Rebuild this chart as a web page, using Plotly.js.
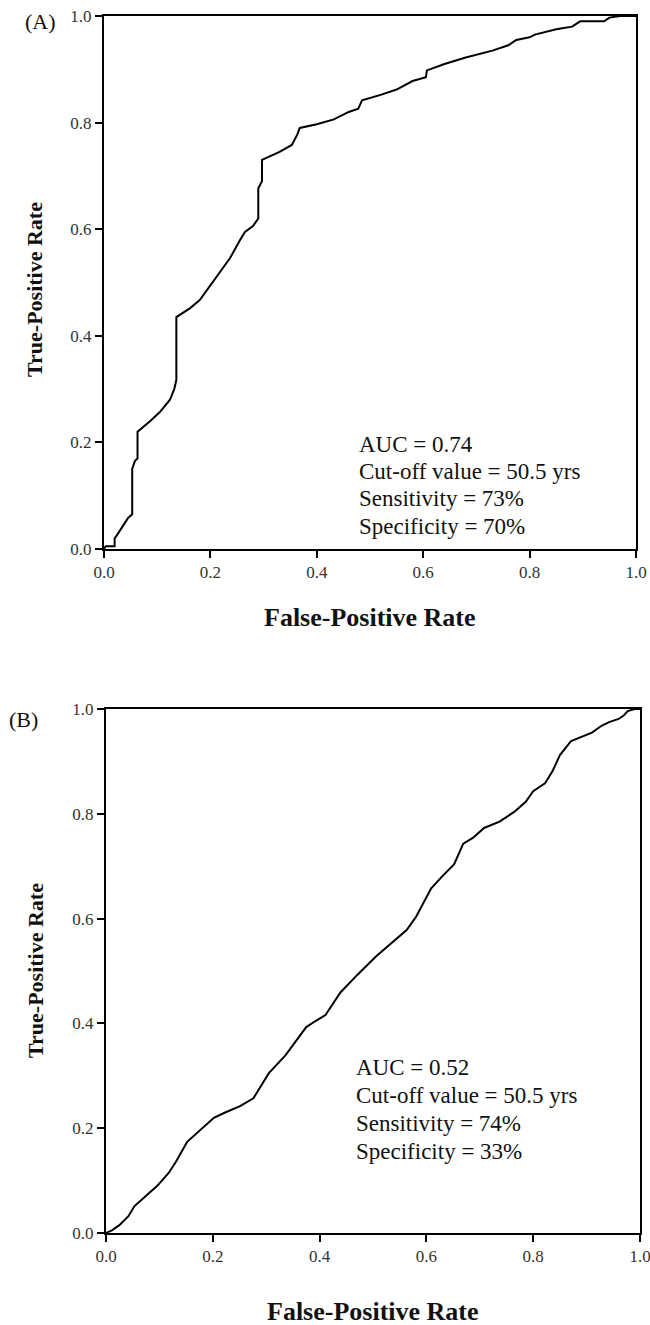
<!DOCTYPE html>
<html>
<head>
<meta charset="utf-8">
<script src="https://cdn.plot.ly/plotly-3.0.1.min.js"></script>
<style>html,body{margin:0;padding:0;background:#fff;}#chart{width:650px;height:1325px;}</style>
</head>
<body>
<div id="chart"></div>
<script>
// ---- Data ----
const fprA = [0, 0.003, 0.02, 0.02, 0.025, 0.03, 0.035, 0.045, 0.053, 0.053, 0.058, 0.063, 0.063, 0.087, 0.105, 0.124, 0.132, 0.136, 0.136, 0.162, 0.18, 0.2, 0.218, 0.237, 0.256, 0.265, 0.28, 0.29, 0.29, 0.297, 0.297, 0.33, 0.353, 0.363, 0.368, 0.4, 0.432, 0.46, 0.478, 0.485, 0.52, 0.55, 0.58, 0.605, 0.607, 0.64, 0.68, 0.73, 0.76, 0.775, 0.8, 0.81, 0.85, 0.88, 0.895, 0.94, 0.95, 0.97, 1.0];
const tprA = [0, 0.005, 0.005, 0.02, 0.027, 0.035, 0.042, 0.058, 0.065, 0.15, 0.165, 0.17, 0.22, 0.24, 0.257, 0.28, 0.30, 0.317, 0.435, 0.452, 0.467, 0.495, 0.52, 0.546, 0.58, 0.595, 0.606, 0.62, 0.677, 0.69, 0.73, 0.745, 0.758, 0.777, 0.79, 0.797, 0.806, 0.82, 0.826, 0.842, 0.852, 0.862, 0.878, 0.885, 0.898, 0.91, 0.922, 0.935, 0.945, 0.955, 0.96, 0.965, 0.975, 0.98, 0.99, 0.99, 0.997, 1.0, 1.0];

const fprB = [0, 0.011, 0.025, 0.042, 0.053, 0.074, 0.096, 0.117, 0.131, 0.152, 0.174, 0.202, 0.223, 0.251, 0.276, 0.305, 0.336, 0.375, 0.393, 0.411, 0.439, 0.471, 0.506, 0.528, 0.563, 0.581, 0.609, 0.63, 0.652, 0.669, 0.687, 0.708, 0.737, 0.765, 0.786, 0.80, 0.822, 0.836, 0.85, 0.871, 0.889, 0.91, 0.928, 0.942, 0.96, 0.97, 0.977, 0.99, 1.0];
const tprB = [0, 0.005, 0.015, 0.032, 0.051, 0.071, 0.09, 0.114, 0.136, 0.174, 0.194, 0.22, 0.23, 0.242, 0.257, 0.305, 0.339, 0.393, 0.405, 0.416, 0.459, 0.493, 0.528, 0.547, 0.578, 0.604, 0.658, 0.681, 0.704, 0.743, 0.754, 0.773, 0.785, 0.804, 0.823, 0.843, 0.858, 0.881, 0.912, 0.939, 0.946, 0.955, 0.968, 0.975, 0.981, 0.988, 0.996, 1.0, 1.0];

const tickVals = [0, 0.2, 0.4, 0.6, 0.8, 1.0];
const tickText = ['0.0', '0.2', '0.4', '0.6', '0.8', '1.0'];

const statsA = ['AUC = 0.74', 'Cut-off value = 50.5 yrs', 'Sensitivity = 73%', 'Specificity = 70%'];
const statsB = ['AUC = 0.52', 'Cut-off value = 50.5 yrs', 'Sensitivity = 74%', 'Specificity = 33%'];
const panelLabels = ['(A)', '(B)'];
const xTitle = 'False-Positive Rate';
const yTitle = 'True-Positive Rate';

// ---- Styling / layout ----
const W = 650, H = 1325;
const px = v => v / W;           // x pixel -> paper
const py = v => 1 - v / H;       // y pixel -> paper
const SERIF = 'Liberation Serif, Times New Roman, serif';

function axisStyle(domain, anchor) {
  return {
    domain: domain, anchor: anchor, range: [0, 1], autorange: false,
    tickmode: 'array', tickvals: tickVals, ticktext: tickText,
    ticks: 'outside', ticklen: 7, tickwidth: 2, tickcolor: '#000',
    showline: true, linewidth: 2, linecolor: '#000', mirror: true,
    showgrid: false, zeroline: false, fixedrange: true,
    ticklabeloverflow: 'allow',
    tickfont: {family: SERIF, size: 17, color: '#333'}
  };
}

const traces = [
  {x: fprA, y: tprA, xaxis: 'x', yaxis: 'y', mode: 'lines', line: {color: '#000', width: 2}, hoverinfo: 'skip', cliponaxis: false},
  {x: fprB, y: tprB, xaxis: 'x2', yaxis: 'y2', mode: 'lines', line: {color: '#000', width: 2}, hoverinfo: 'skip', cliponaxis: false}
];

const annotations = [];
function statBlock(lines, xref, yref, x0, y0, step) {
  lines.forEach((t, i) => annotations.push({
    text: t, xref: xref, yref: yref, x: x0, y: y0 - i * step,
    xanchor: 'left', yanchor: 'middle', showarrow: false,
    font: {family: SERIF, size: 23, color: '#111'}
  }));
}
statBlock(statsA, 'x', 'y', 0.475, 0.196, 0.051);
statBlock(statsB, 'x2', 'y2', 0.464, 0.315, 0.053);

function titleAnn(text, x, y, angle, size) {
  annotations.push({
    text: '<b>' + text + '</b>', xref: 'paper', yref: 'paper', x: x, y: y,
    xanchor: 'center', yanchor: 'middle', showarrow: false, textangle: angle,
    font: {family: SERIF, size: size, color: '#111'}
  });
}
titleAnn(xTitle, px(370), py(617), 0, 26);
titleAnn(xTitle, px(373), py(1311), 0, 26);
titleAnn(yTitle, px(35), py(290), -90, 22);
titleAnn(yTitle, px(35), py(971), -90, 22);

[[panelLabels[0], 40, 22], [panelLabels[1], 23, 719]].forEach(([t, x, y]) => annotations.push({
  text: t, xref: 'paper', yref: 'paper', x: px(x), y: py(y),
  xanchor: 'center', yanchor: 'middle', showarrow: false,
  font: {family: SERIF, size: 22, color: '#111'}
}));

const layout = {
  width: W, height: H,
  margin: {l: 0, r: 0, t: 0, b: 0},
  paper_bgcolor: '#fff', plot_bgcolor: '#fff',
  showlegend: false,
  xaxis: axisStyle([px(104), px(636)], 'y'),
  yaxis: axisStyle([py(549), py(16)], 'x'),
  xaxis2: axisStyle([px(106), px(640)], 'y2'),
  yaxis2: axisStyle([py(1233), py(709)], 'x2'),
  annotations: annotations
};

Plotly.newPlot('chart', traces, layout, {staticPlot: true, displayModeBar: false});
</script>
</body>
</html>
